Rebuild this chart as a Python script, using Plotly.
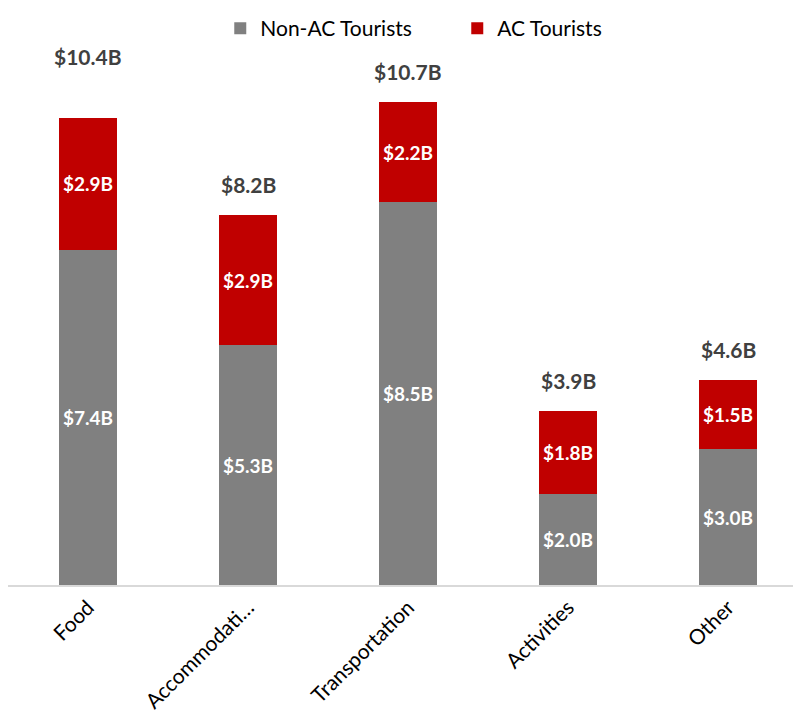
import plotly.graph_objects as go

categories = ["Food", "Accommodati…", "Transportation", "Activities", "Other"]
non_ac = [7.44, 5.33, 8.51, 2.02, 3.02]
ac = [2.94, 2.89, 2.22, 1.84, 1.54]
totals = [a + b for a, b in zip(non_ac, ac)]

FONT = "Lato, Open Sans, sans-serif"

fig = go.Figure()

fig.add_trace(go.Bar(
    x=categories, y=non_ac, name="Non-AC Tourists",
    marker=dict(color="#808080", line=dict(width=0)),
    texttemplate="$%{y:.1f}B", textposition="inside",
    insidetextanchor="middle", textangle=0, constraintext="none",
    textfont=dict(family=FONT, size=19, color="white", weight="bold"),
    hoverinfo="skip",
))
fig.add_trace(go.Bar(
    x=categories, y=ac, name="AC Tourists",
    marker=dict(color="#c00000", line=dict(width=0)),
    texttemplate="$%{y:.1f}B", textposition="inside",
    insidetextanchor="middle", textangle=0, constraintext="none",
    textfont=dict(family=FONT, size=19, color="white", weight="bold"),
    hoverinfo="skip",
))

# total labels above each stack (Food label sits higher in the original)
label_shift = [47, 16, 16, 16, 16]
for cat, tot, dy in zip(categories, totals, label_shift):
    fig.add_annotation(
        x=cat, y=tot, text=f"${tot:.1f}B", showarrow=False,
        yanchor="bottom", yshift=dy,
        font=dict(family=FONT, size=21, color="#404040", weight="bold"),
    )

fig.update_layout(
    barmode="stack",
    bargap=0.64,
    width=801, height=715,
    margin=dict(l=0, r=0, t=0, b=138),
    plot_bgcolor="white", paper_bgcolor="white",
    font=dict(family=FONT, size=18, color="#000000"),
    showlegend=True,
    legend=dict(
        orientation="h", x=0.265, xanchor="left", y=1.0, yanchor="top",
        traceorder="normal", bgcolor="rgba(0,0,0,0)",
        font=dict(family=FONT, size=21, color="#000000"),
        itemwidth=30, entrywidth=192,
    ),
    xaxis=dict(
        range=[-0.5, 4.506], tickangle=-45, automargin=False,
        showline=True, linecolor="#d9d9d9", linewidth=2,
        ticks="", tickfont=dict(family=FONT, size=21, color="#000000"),
    ),
    yaxis=dict(
        range=[0, 12.82], visible=False, showgrid=False, automargin=False,
    ),
)

fig.write_html("out.html")
